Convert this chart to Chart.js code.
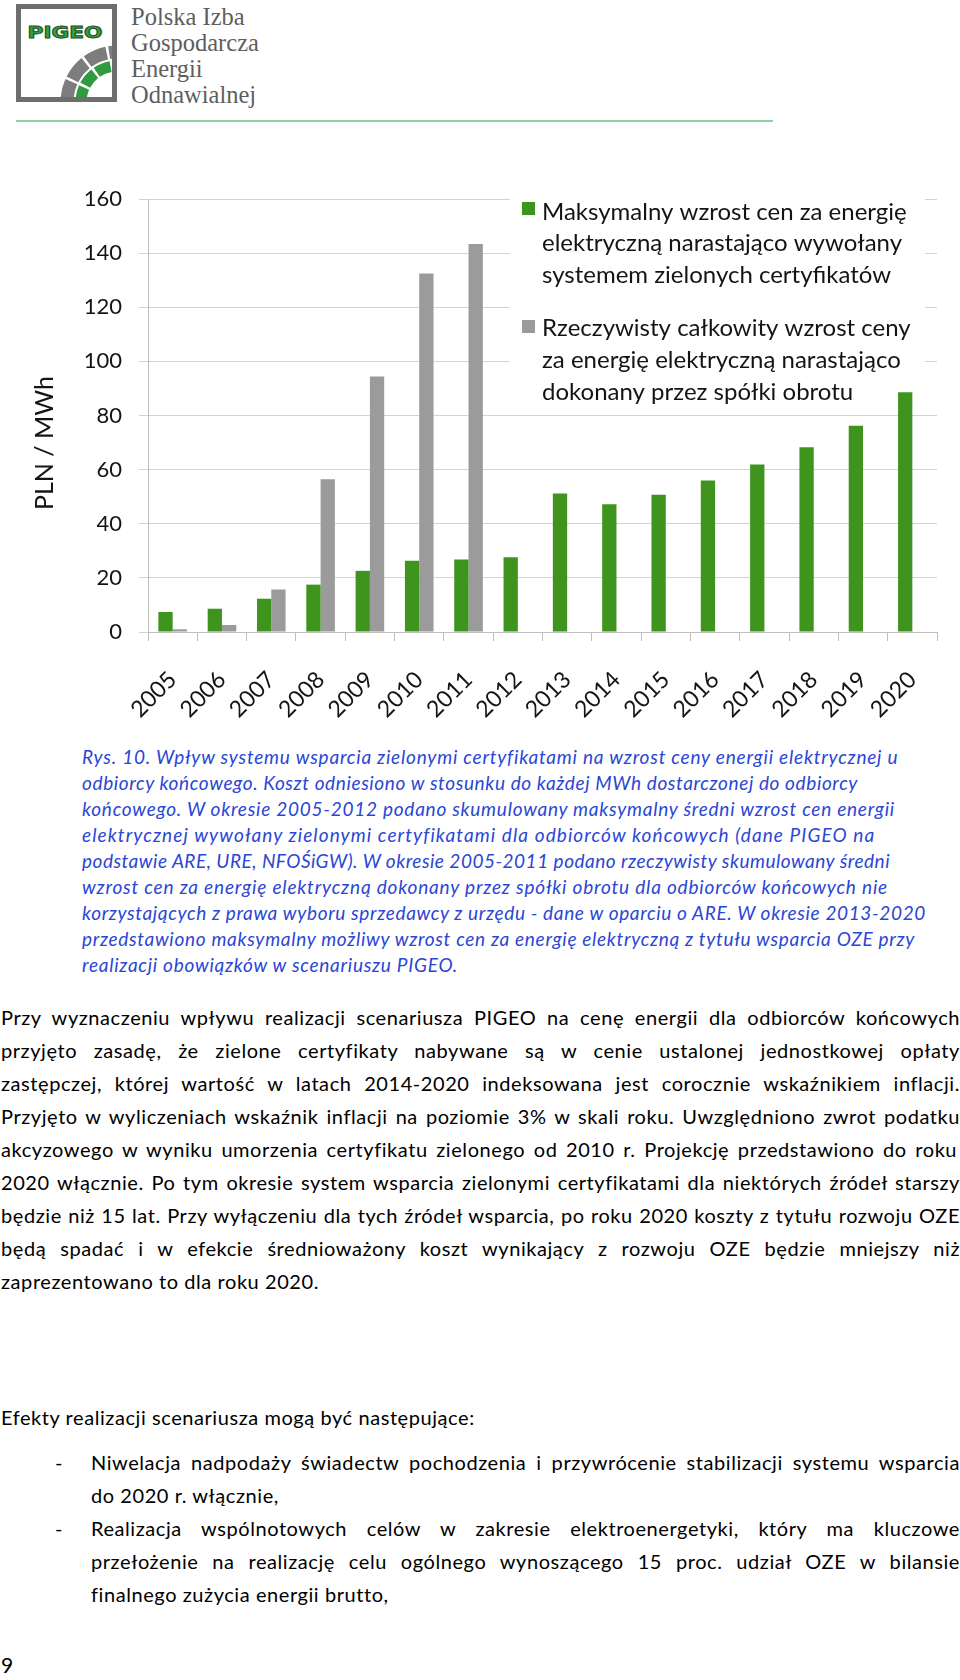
<!DOCTYPE html>
<html lang="pl">
<head>
<meta charset="utf-8">
<title>Wpływ systemu zielonych certyfikatów na wzrost ceny energii – PIGEO</title>
<script src="https://cdn.jsdelivr.net/npm/chart.js@4.4.1/dist/chart.umd.min.js"></script>
<style>
  html, body { margin:0; padding:0; background:#fff; }
  body { position:relative; width:960px; height:1680px; overflow:hidden; font-family: Lato, "Open Sans", sans-serif; color:#000; }
  .logo-text { position:absolute; left:131px; font-family:"Liberation Serif","DejaVu Serif",serif; font-size:24.5px; color:#5e5e5e; height:26px; line-height:26px; white-space:nowrap; }
  #rule { position:absolute; left:16px; top:120px; width:757px; height:2px; background:#8fd0ab; }
  #chartBox { position:absolute; left:0; top:150px; width:960px; height:580px; }
  .cap { position:absolute; left:82px; height:26px; line-height:26px; font-style:italic; font-size:19px; color:#2a46d6; white-space:nowrap; }
  .tx { position:absolute; height:30px; line-height:30px; font-size:20px; white-space:nowrap; color:#000; }
</style>
</head>
<body>

<svg style="position:absolute;left:0;top:0" width="130" height="110" viewBox="0 0 130 110">
  <defs><clipPath id="inner"><rect x="21" y="9" width="91" height="88"/></clipPath></defs>
  <rect x="18.5" y="6.5" width="96" height="93" fill="#fff" stroke="#6e6e6e" stroke-width="5"/>
  <g clip-path="url(#inner)">
    <path d="M67,102 A50,50 0 0 1 117,52" fill="none" stroke="#7d7d7d" stroke-width="13" stroke-dasharray="21 2.5"/>
    <path d="M81,102 A36,36 0 0 1 117,66" fill="none" stroke="#2f9a3e" stroke-width="11" stroke-dasharray="15 2.5"/>
  </g>
  <text x="65" y="38" text-anchor="middle" font-family="DejaVu Sans" font-weight="bold" font-size="15.5" fill="#33a043" stroke="#1d4f22" stroke-width="0.9" textLength="75" lengthAdjust="spacingAndGlyphs">PIGEO</text>
</svg>
<div class="logo-text" style="top:4px">Polska Izba</div>
<div class="logo-text" style="top:30px">Gospodarcza</div>
<div class="logo-text" style="top:56px">Energii</div>
<div class="logo-text" style="top:82px">Odnawialnej</div>
<div id="rule"></div>

<div id="chartBox"><canvas id="chart"></canvas></div>

<div class="cap" style="top:744px" data-w="816">Rys. 10. Wpływ systemu wsparcia zielonymi certyfikatami na wzrost ceny energii elektrycznej u</div>
<div class="cap" style="top:770px" data-w="776">odbiorcy końcowego. Koszt odniesiono w stosunku do każdej MWh dostarczonej do odbiorcy</div>
<div class="cap" style="top:796px" data-w="813">końcowego. W okresie 2005-2012 podano skumulowany maksymalny średni wzrost cen energii</div>
<div class="cap" style="top:822px" data-w="793">elektrycznej wywołany zielonymi certyfikatami dla odbiorców końcowych (dane PIGEO na</div>
<div class="cap" style="top:848px" data-w="808">podstawie ARE, URE, NFOŚiGW). W okresie 2005-2011 podano rzeczywisty skumulowany średni</div>
<div class="cap" style="top:874px" data-w="806">wzrost cen za energię elektryczną dokonany przez spółki obrotu dla odbiorców końcowych nie</div>
<div class="cap" style="top:900px" data-w="844">korzystających z prawa wyboru sprzedawcy z urzędu - dane w oparciu o ARE. W okresie 2013-2020</div>
<div class="cap" style="top:926px" data-w="833">przedstawiono maksymalny możliwy wzrost cen za energię elektryczną z tytułu wsparcia OZE przy</div>
<div class="cap" style="top:952px" data-w="376">realizacji obowiązków w scenariuszu PIGEO.</div>

<div class="tx j" style="left:1px;top:1002px" data-w="959">Przy wyznaczeniu wpływu realizacji scenariusza PIGEO na cenę energii dla odbiorców końcowych</div>
<div class="tx j" style="left:1px;top:1035px" data-w="959">przyjęto zasadę, że zielone certyfikaty nabywane są w cenie ustalonej jednostkowej opłaty</div>
<div class="tx j" style="left:1px;top:1068px" data-w="959">zastępczej, której wartość w latach 2014-2020 indeksowana jest corocznie wskaźnikiem inflacji.</div>
<div class="tx j" style="left:1px;top:1101px" data-w="959">Przyjęto w wyliczeniach wskaźnik inflacji na poziomie 3% w skali roku. Uwzględniono zwrot podatku</div>
<div class="tx j" style="left:1px;top:1134px" data-w="959">akcyzowego w wyniku umorzenia certyfikatu zielonego od 2010 r.  Projekcję przedstawiono do roku</div>
<div class="tx j" style="left:1px;top:1167px" data-w="959">2020 włącznie. Po tym okresie system wsparcia zielonymi certyfikatami dla niektórych źródeł starszy</div>
<div class="tx j" style="left:1px;top:1200px" data-w="959">będzie niż 15 lat. Przy wyłączeniu dla tych źródeł wsparcia, po roku 2020 koszty z tytułu rozwoju OZE</div>
<div class="tx j" style="left:1px;top:1233px" data-w="959">będą spadać i w efekcie średnioważony koszt wynikający z rozwoju OZE będzie mniejszy niż</div>
<div class="tx" id="refLine" style="left:1px;top:1266px">zaprezentowano to dla roku 2020.</div>

<div class="tx" style="left:1px;top:1402px">Efekty realizacji scenariusza mogą być następujące:</div>
<div class="tx" style="left:55px;top:1447px">-</div>
<div class="tx j" style="left:91px;top:1447px" data-w="869">Niwelacja nadpodaży świadectw pochodzenia i przywrócenie stabilizacji systemu wsparcia</div>
<div class="tx" style="left:91px;top:1480px">do 2020 r. włącznie,</div>
<div class="tx" style="left:55px;top:1513px">-</div>
<div class="tx j" style="left:91px;top:1513px" data-w="869">Realizacja wspólnotowych celów w zakresie elektroenergetyki, który ma kluczowe</div>
<div class="tx j" style="left:91px;top:1546px" data-w="869">przełożenie na realizację celu ogólnego wynoszącego 15 proc. udział OZE w bilansie</div>
<div class="tx" style="left:91px;top:1579px">finalnego zużycia energii brutto,</div>

<div class="tx" style="left:1px;top:1650px;font-size:21px">9</div>

<script>
// ---- chart data ----
const years = ['2005','2006','2007','2008','2009','2010','2011','2012','2013','2014','2015','2016','2017','2018','2019','2020'];
const greenSeries = [7.4, 8.6, 12.3, 17.5, 22.6, 26.3, 26.8, 27.6, 51.2, 47.2, 50.7, 56.0, 61.9, 68.3, 76.2, 88.6];
const graySeries  = [1.0, 2.6, 15.7, 56.4, 94.4, 132.5, 143.4, null, null, null, null, null, null, null, null, null];
const yTickValues = [0, 20, 40, 60, 80, 100, 120, 140, 160];
const greenLegend = ['Maksymalny wzrost cen za energię', 'elektryczną narastająco wywołany', 'systemem zielonych certyfikatów'];
const grayLegend  = ['Rzeczywisty całkowity wzrost ceny', 'za energię elektryczną narastająco', 'dokonany przez spółki obrotu'];
const yAxisTitle = 'PLN / MWh';

// ---- text fitting (page typography) ----
(function fitText(){
  const ref = document.getElementById('refLine');
  const w0 = ref.getBoundingClientRect().width;
  const ls = (318 - w0) / ref.textContent.length;
  document.querySelectorAll('.tx').forEach(el => { el.style.letterSpacing = ls + 'px'; });
  document.querySelectorAll('.tx.j').forEach(el => {
    const w = el.getBoundingClientRect().width;
    const n = (el.textContent.match(/ /g) || []).length;
    const target = +el.dataset.w;
    let ws = (target - w) / n;
    if (ws < -1.2) {
      const extra = (target - w + 1.2 * n) / el.textContent.length;
      el.style.letterSpacing = (ls + extra) + 'px';
      ws = -1.2;
    }
    el.style.wordSpacing = ws + 'px';
  });
  document.querySelectorAll('.cap').forEach(el => {
    const w = el.getBoundingClientRect().width;
    el.style.letterSpacing = ((+el.dataset.w - w) / el.textContent.length) + 'px';
  });
})();

// ---- plugins ----
const insideLegend = {
  id: 'insideLegend',
  beforeDatasetsDraw(chart) {
    const { ctx, chartArea: ca } = chart;
    ctx.save();
    ctx.fillStyle = '#ffffff';
    ctx.fillRect(ca.left + 362, ca.top - 10, 415, 216);
    ctx.font = '24px Lato';
    ctx.textBaseline = 'middle';
    ctx.textAlign = 'left';
    const layout = [{ box: 3, lines: [13, 44.7, 76.4] }, { box: 121, lines: [129, 161, 193] }];
    chart.data.datasets.forEach((ds, i) => {
      const l = layout[i];
      ctx.fillStyle = ds.backgroundColor;
      ctx.fillRect(ca.left + 374, ca.top + l.box, 13, 13);
      ctx.fillStyle = '#141414';
      ds.legendLines.forEach((t, j) => ctx.fillText(t, ca.left + 394, ca.top + l.lines[j]));
    });
    ctx.restore();
  }
};
const yTitlePlugin = {
  id: 'yTitle',
  afterDraw(chart) {
    const { ctx, chartArea: ca } = chart;
    ctx.save();
    ctx.translate(45, ca.top + 244);
    ctx.rotate(-Math.PI / 2);
    ctx.font = '25px Lato';
    ctx.fillStyle = '#141414';
    ctx.textAlign = 'center';
    ctx.textBaseline = 'middle';
    ctx.fillText(yAxisTitle, 0, 0);
    ctx.restore();
  }
};

new Chart(document.getElementById('chart'), {
  type: 'bar',
  data: {
    labels: years,
    datasets: [
      { label: greenLegend.join(' '), legendLines: greenLegend, data: greenSeries, backgroundColor: '#3f941e', borderWidth: 0, categoryPercentage: 0.58, barPercentage: 1.0 },
      { label: grayLegend.join(' '), legendLines: grayLegend, data: graySeries, backgroundColor: '#9b9b9b', borderWidth: 0, categoryPercentage: 0.58, barPercentage: 1.0 }
    ]
  },
  options: {
    responsive: true,
    maintainAspectRatio: false,
    animation: false,
    layout: { padding: { top: 49, right: 23, left: 0, bottom: 0 } },
    plugins: { legend: { display: false }, tooltip: { enabled: false } },
    scales: {
      x: {
        grid: { display: true, drawOnChartArea: false, drawTicks: true, tickLength: 9, color: '#bfbfbf', offset: true },
        border: { display: true, color: '#bfbfbf' },
        ticks: { autoSkip: false, maxRotation: 45, minRotation: 45, color: '#141414', font: { family: 'Lato', size: 23 }, padding: 25 },
        afterFit(s) { s.height = 98; }
      },
      y: {
        min: 0, max: 160,
        afterBuildTicks(s) { s.ticks = yTickValues.map(v => ({ value: v })); },
        ticks: { color: '#141414', font: { family: 'Lato', size: 22 }, padding: 17 },
        grid: { color: '#d3d3d3', tickLength: 9 },
        border: { display: true, color: '#bfbfbf' },
        afterFit(s) { s.width = 148; }
      }
    }
  },
  plugins: [insideLegend, yTitlePlugin]
});
</script>
</body>
</html>
